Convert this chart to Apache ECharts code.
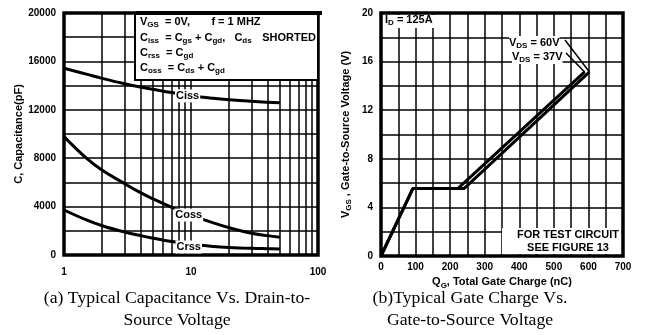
<!DOCTYPE html>
<html>
<head>
<meta charset="utf-8">
<script src="https://cdn.jsdelivr.net/npm/echarts@6/dist/echarts.min.js"></script>
<style>
  html, body { margin: 0; padding: 0; background: #fff; }
  #main { width: 652px; height: 335px; }
</style>
</head>
<body>
<div id="main"></div>
<script>
// (a) capacitance vs drain-to-source voltage (log x)
const capV = [1, 1.5, 2, 3, 4, 5, 7, 10, 15, 20, 30, 40, 50];
const ciss = [15430, 14950, 14600, 14150, 13880, 13700, 13430, 13170, 12950, 12830, 12700, 12630, 12590];
const coss = [9780, 8000, 7000, 5900, 5150, 4650, 3950, 3300, 2650, 2250, 1800, 1600, 1460];
const crss = [3720, 2900, 2420, 1900, 1600, 1400, 1120, 880, 700, 620, 550, 520, 500];
const capMinorX = [2, 3, 4, 5, 6, 7, 8, 9, 20, 30, 40, 50, 60, 70, 80, 90];
const capLabels = [['Ciss', 9.4, 13150], ['Coss', 9.6, 3300], ['Crss', 9.6, 660]];

// (b) gate charge
const qg37 = [0, 92, 222, 589];
const vgs37 = [0, 5.55, 5.55, 15.15];
const qg60 = [0, 92, 240, 603];
const vgs60 = [0, 5.55, 5.55, 15.15];

const sans = 'Liberation Sans, Arial, sans-serif';
const serif = 'Liberation Serif, Times New Roman, serif';
const tick = { color: '#000', fontFamily: sans, fontWeight: 'bold', fontSize: 10 };
const gridLine = { show: true, lineStyle: { color: '#000', width: 1.5 } };
const zip = (xs, ys) => xs.map((x, i) => [x, ys[i]]);

const rich = {
  n: { fontFamily: sans, fontWeight: 'bold', fontSize: 11, color: '#000' },
  s: { fontFamily: sans, fontWeight: 'bold', fontSize: 8, color: '#000', padding: [6, 0, 0, 0] }
};

const chart = echarts.init(document.getElementById('main'));

const curve = (name, data, xi) => ({
  name, type: 'line', xAxisIndex: xi, yAxisIndex: xi, data,
  symbol: 'none', smooth: xi === 0 ? 0.4 : false,
  lineStyle: { color: '#000', width: 3 }, z: 3
});

const labelPoints = capLabels.map(([t, x, y]) => ({
  coord: [x, y], value: t, symbolSize: 0,
  label: {
    show: true, position: 'inside', formatter: t, color: '#000',
    fontFamily: sans, fontWeight: 'bold', fontSize: 11,
    backgroundColor: '#fff', padding: [1, 1]
  }
}));

const option = {
  animation: false,
  backgroundColor: '#fff',
  grid: [
    { left: 64, top: 13, width: 254, height: 242, show: true, borderColor: '#000', borderWidth: 3.5, backgroundColor: 'transparent', z: 5 },
    { left: 381, top: 13, width: 242, height: 243, show: true, borderColor: '#000', borderWidth: 3.5, backgroundColor: 'transparent', z: 5 }
  ],
  xAxis: [
    {
      gridIndex: 0, type: 'log', logBase: 10, min: 1, max: 100,
      axisLine: { show: false }, axisTick: { show: false },
      axisLabel: Object.assign({ margin: 12 }, tick),
      splitLine: gridLine
    },
    {
      gridIndex: 1, type: 'value', min: 0, max: 700, interval: 50,
      axisLine: { show: false }, axisTick: { show: false },
      axisLabel: Object.assign({ margin: 6, formatter: v => (v % 100 === 0 ? v : '') }, tick),
      splitLine: gridLine,
      name: '{n|Q}{s|G}{n|, Total Gate Charge (nC)}',
      nameLocation: 'middle', nameGap: 19,
      nameTextStyle: { rich }
    }
  ],
  yAxis: [
    {
      gridIndex: 0, type: 'value', min: 0, max: 20000, interval: 2000,
      axisLine: { show: false }, axisTick: { show: false },
      axisLabel: Object.assign({ margin: 8, formatter: v => (v % 4000 === 0 ? v : '') }, tick),
      splitLine: gridLine,
      name: 'C, Capacitance(pF)', nameLocation: 'middle', nameGap: 37, nameRotate: 90,
      nameTextStyle: { color: '#000', fontFamily: sans, fontWeight: 'bold', fontSize: 11 }
    },
    {
      gridIndex: 1, type: 'value', min: 0, max: 20, interval: 2,
      axisLine: { show: false }, axisTick: { show: false },
      axisLabel: Object.assign({ margin: 8, formatter: v => (v % 4 === 0 ? v : '') }, tick),
      splitLine: gridLine,
      name: '{n|V}{s|GS}{n| , Gate-to-Source Voltage (V)}',
      nameLocation: 'middle', nameGap: 28, nameRotate: 90,
      nameTextStyle: { rich }
    }
  ],
  series: [
    {
      type: 'line', xAxisIndex: 0, yAxisIndex: 0, data: [], z: 1,
      markLine: {
        silent: true, symbol: ['none', 'none'], label: { show: false },
        lineStyle: { color: '#000', width: 1.5, type: 'solid' },
        data: capMinorX.map(v => ({ xAxis: v }))
      }
    },
    Object.assign(curve('Ciss', zip(capV, ciss), 0), { markPoint: { data: [labelPoints[0]] } }),
    Object.assign(curve('Coss', zip(capV, coss), 0), { markPoint: { data: [labelPoints[1]] } }),
    Object.assign(curve('Crss', zip(capV, crss), 0), { markPoint: { data: [labelPoints[2]] } }),
    curve('VDS = 37V', zip(qg37, vgs37), 1),
    curve('VDS = 60V', zip(qg60, vgs60), 1)
  ]
};
chart.setOption(option);

// annotation boxes and leader lines
const end37 = chart.convertToPixel({ gridIndex: 1 }, [qg37[3], vgs37[3]]);
const end60 = chart.convertToPixel({ gridIndex: 1 }, [qg60[3], vgs60[3]]);
const txt = (x, y, text, extra) => ({
  type: 'text', x, y, z: 30,
  style: Object.assign({ text, rich, verticalAlign: 'middle' }, extra || {})
});
const caption = (x, y, text) => ({
  type: 'text', x, y, z: 30,
  style: { text, font: '17.7px ' + serif, fill: '#000', align: 'center', verticalAlign: 'middle' }
});

chart.setOption({
  graphic: [
    { type: 'rect', z: 20, shape: { x: 135, y: 13, width: 183, height: 67 }, style: { fill: '#fff', stroke: '#000', lineWidth: 2 } },
    { type: 'rect', z: 21, shape: { x: 136, y: 11, width: 186, height: 4 }, style: { fill: '#000' } },
    txt(140, 22, '{n|V}{s|GS}{n|  = 0V,       f = 1 MHZ}'),
    txt(140, 38, '{n|C}{s|iss}{n|  = C}{s|gs}{n| + C}{s|gd}{n|,   C}{s|ds}'),
    txt(316, 38, '{n|SHORTED}', { align: 'right' }),
    txt(140, 53, '{n|C}{s|rss}{n|  = C}{s|gd}'),
    txt(140, 68, '{n|C}{s|oss}{n|  = C}{s|ds}{n| + C}{s|gd}'),

    { type: 'rect', z: 20, shape: { x: 383, y: 15, width: 60, height: 13 }, style: { fill: '#fff' } },
    txt(385, 20, '{n|I}{s|D}{n| = 125A}'),

    { type: 'rect', z: 20, shape: { x: 502, y: 228, width: 119, height: 26 }, style: { fill: '#fff' } },
    txt(568, 235, '{n|FOR TEST CIRCUIT}', { align: 'center' }),
    txt(568, 248, '{n|SEE FIGURE 13}', { align: 'center' }),

    { type: 'line', z: 25, shape: { x1: 565, y1: 40, x2: end60[0], y2: end60[1] }, style: { stroke: '#000', lineWidth: 1.5 } },
    { type: 'line', z: 25, shape: { x1: 566, y1: 53, x2: end37[0], y2: end37[1] }, style: { stroke: '#000', lineWidth: 1.5 } },
    txt(509, 43, '{n|V}{s|DS}{n| = 60V}', { backgroundColor: '#fff' }),
    txt(512, 57, '{n|V}{s|DS}{n| = 37V}', { backgroundColor: '#fff' }),

    caption(177, 298, '(a) Typical Capacitance Vs. Drain-to-'),
    caption(177, 320, 'Source Voltage'),
    caption(470, 298, '(b)Typical Gate Charge Vs.'),
    caption(470, 320, 'Gate-to-Source Voltage')
  ]
});
</script>
</body>
</html>
